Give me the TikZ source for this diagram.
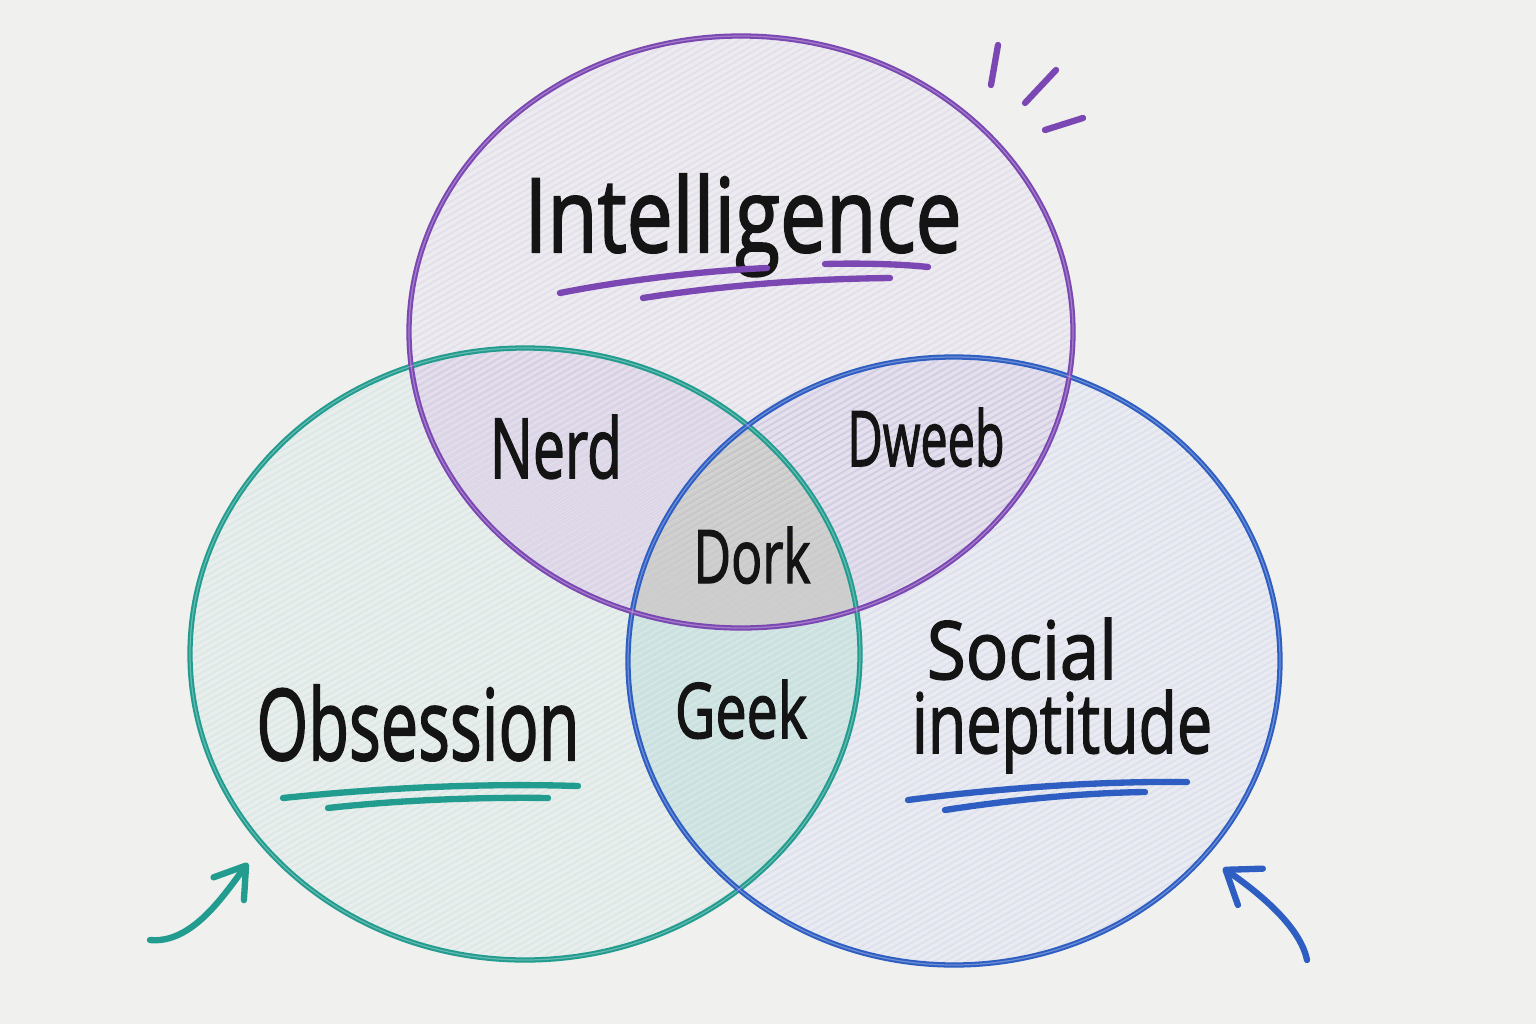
\documentclass[tikz,border=0pt]{standalone}
\usepackage{fontspec}
\setmainfont{Open Sans}
\newfontfamily\handfont{Open Sans}[FakeBold=2]
\usepackage{graphicx}
\usetikzlibrary{arrows.meta}
\definecolor{board}{HTML}{F0F0EE}
\definecolor{pur}{HTML}{7B47B2}
\definecolor{tea}{HTML}{229C8E}
\definecolor{blu}{HTML}{2E5EC2}
\definecolor{ink}{HTML}{141414}
\definecolor{fP}{HTML}{ECEBEF}
\definecolor{fT}{HTML}{E9EEED}
\definecolor{fB}{HTML}{EAEBF1}
\definecolor{fNerd}{HTML}{E6DEEC}
\definecolor{fDweeb}{HTML}{E5E0EC}
\definecolor{fDork}{HTML}{D9D6D1}
\definecolor{fGeek}{HTML}{D8E9E5}
\newcommand{\hw}[3]{\resizebox{#1}{#2}{\fontsize{30}{30}\handfont #3}}
\def\PurP{(741,332) ellipse [x radius=332, y radius=296]}
\def\TeaP{(525,654) ellipse [x radius=335, y radius=306]}
\def\BluP{(954,661) ellipse [x radius=326, y radius=304]}
\begin{document}
\begin{tikzpicture}[x=0.01cm,y=-0.01cm,
  txt/.style={inner sep=0pt, outer sep=0pt, anchor=base, text=ink},
  rimline/.style={line width=1.5pt},
  pen/.style={line width=1.8pt, line cap=round},
  hatch/.style={line width=0.5pt, opacity=0.07}]
\useasboundingbox (0,0) rectangle (1536,1024);
\fill[board] (0,0) rectangle (1536,1024);

% region fills
\fill[fT] \TeaP;
\fill[fB] \BluP;
\fill[fP] \PurP;
\begin{scope}
  \clip \PurP;
  \fill[fNerd] \TeaP;
  \fill[fDweeb] \BluP;
\end{scope}
\begin{scope}
  \clip \TeaP;
  \fill[fGeek] \BluP;
\end{scope}
\begin{scope}
  \clip \PurP;
  \clip \TeaP;
  \fill[fDork] \BluP;
\end{scope}

% hatching
\begin{scope}
  \clip \PurP;
  \foreach \k in {-700,-689,...,1080} \draw[pur, hatch] (\k,640) -- (\k+1050,30);
\end{scope}
\begin{scope}
  \clip \TeaP;
  \foreach \k in {-900,-889,...,870} \draw[tea, hatch] (\k,970) -- (\k+1100,340);
\end{scope}
\begin{scope}
  \clip \BluP;
  \foreach \k in {-500,-489,...,1290} \draw[blu, hatch] (\k,970) -- (\k+1100,340);
\end{scope}

% circle rims
\draw[tea, rimline] \TeaP;
\draw[blu, rimline] \BluP;
\draw[pur, rimline] \PurP;
\draw[white, opacity=0.3, line width=0.35pt] \TeaP;
\draw[white, opacity=0.3, line width=0.35pt] \BluP;
\draw[white, opacity=0.3, line width=0.35pt] \PurP;

% labels
\node[txt] (intel) at (743,252) {\hw{43.7mm}{7.8mm}{Intelligence}};
\node[txt] (obs) at (418,760) {\hw{32.3mm}{7.5mm}{Obsession}};
\node[txt] (soc) at (1022,679) {\hw{19.0mm}{6.1mm}{Social}};
\node[txt] (inept) at (1062,753) {\hw{30.0mm}{6.3mm}{ineptitude}};
\node[txt] (nerd) at (556,478) {\hw{13.2mm}{6.3mm}{Nerd}};
\node[txt] (dweeb) at (926,466) {\hw{15.7mm}{5.8mm}{Dweeb}};
\node[txt] (dork) at (752,583) {\hw{11.7mm}{5.6mm}{Dork}};
\node[txt] (geek) at (741,738) {\hw{13.2mm}{5.8mm}{Geek}};

% underlines
\draw[pur, pen] (560,293) .. controls (620,281) and (700,271) .. (767,268);
\draw[pur, pen] (825,264) .. controls (860,263) and (900,264) .. (928,267);
\draw[pur, pen] (643,298) .. controls (720,286) and (800,279) .. (890,278);
\draw[tea, pen] (283,798) .. controls (380,788) and (480,783) .. (578,786);
\draw[tea, pen] (328,808) .. controls (400,800) and (480,797) .. (548,798);
\draw[blu, pen] (908,800) .. controls (1000,788) and (1100,781) .. (1187,782);
\draw[blu, pen] (945,810) .. controls (1010,800) and (1080,793) .. (1145,792);

% sparkle strokes
\draw[pur, pen] (998,45) -- (991,85);
\draw[pur, pen] (1056,70) -- (1025,103);
\draw[pur, pen] (1083,118) -- (1045,130);

% arrows
\coordinate (ta0) at (150,940);
\coordinate (ta1) at (248,863);
\draw[tea, pen, -{Straight Barb[length=2.9mm,width=3.8mm,round]}] (ta0) .. controls (192,944) and (224,895) .. (ta1);
\coordinate (ba0) at (1307,960);
\coordinate (ba1) at (1223,868);
\draw[blu, pen, -{Straight Barb[length=3.0mm,width=4.4mm,round]}] (ba0) .. controls (1300,925) and (1255,890) .. (ba1);
\end{tikzpicture}
\end{document}
